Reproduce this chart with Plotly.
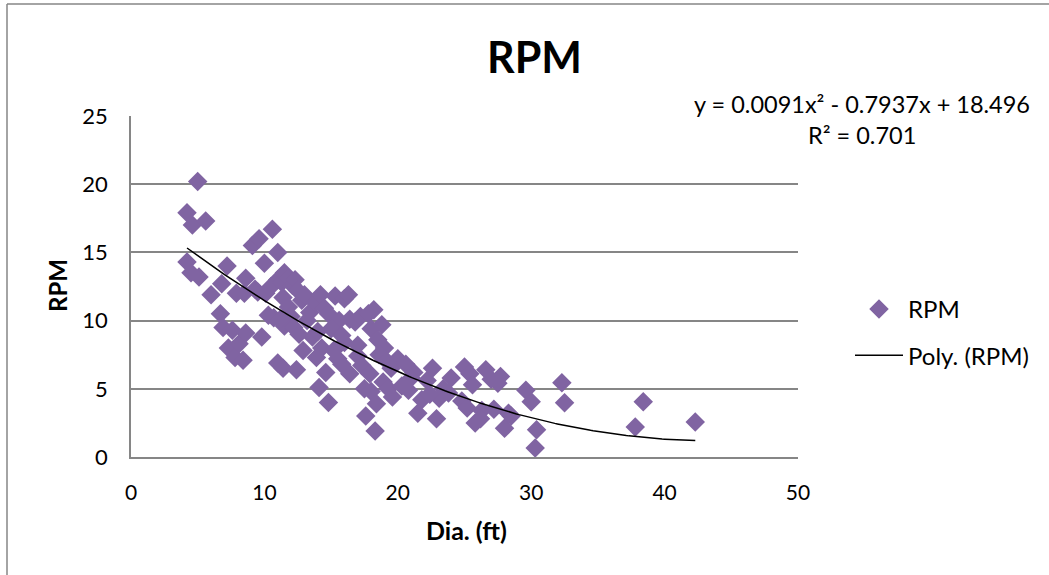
import plotly.graph_objects as go
import numpy as np

dia_ft = [5.0, 4.2, 4.6, 5.6, 4.2, 4.5, 5.1, 6.0, 6.8, 7.2, 6.7, 6.9, 7.3, 7.6, 7.8, 8.4, 8.1, 8.6,
          8.5, 8.6, 7.9, 9.5, 9.8, 9.1, 9.6, 10.0, 10.6, 11.0, 10.5, 10.7, 11.0, 11.3, 11.5, 11.8,
          12.1, 12.3, 11.4, 11.8, 12.0, 11.5, 12.2, 12.6, 12.8, 13.0, 13.4, 13.8, 14.2, 14.5, 14.8,
          15.3, 15.6, 16.0, 16.3, 16.4, 16.8, 11.0, 11.4, 12.4, 13.9, 14.1, 14.6, 14.8, 14.3, 15.2,
          15.5, 15.8, 16.4, 17.0, 17.3, 17.2, 17.8, 18.2, 18.0, 18.8, 18.5, 19.0, 18.6, 17.5, 17.6,
          18.0, 18.4, 18.3, 18.9, 19.3, 19.5, 20.0, 20.6, 20.3, 21.2, 21.5, 21.8, 22.2, 22.6, 22.9,
          23.1, 23.4, 24.0, 25.0, 25.4, 24.8, 25.6, 25.8, 26.3, 26.6, 27.0, 27.2, 27.7, 27.5, 28.0,
          28.5, 29.6, 30.0, 30.4, 30.3, 32.3, 32.5, 37.8, 38.4, 42.3, 26.2, 22.4, 20.8, 19.6, 17.9,
          16.0, 15.0, 13.6, 12.9, 10.3, 11.2, 9.3, 10.1, 12.5, 13.2, 14.0, 15.8, 17.0, 19.2, 21.0,
          23.8, 25.2, 28.3]
rpm = [20.2, 17.9, 17.0, 17.3, 14.3, 13.5, 13.2, 11.9, 12.7, 14.0, 10.5, 9.5, 8.0, 9.3, 7.3, 7.1, 8.3, 9.1,
       12.0, 13.1, 12.0, 12.1, 8.8, 15.5, 16.0, 14.2, 16.7, 15.0, 12.5, 10.2, 13.0, 12.8, 13.5, 13.1,
       12.6, 13.0, 11.7, 11.0, 10.3, 9.6, 9.5, 9.0, 11.5, 11.9, 10.6, 11.3, 11.9, 10.9, 10.5,
       11.8, 10.0, 11.6, 11.9, 10.1, 9.9, 6.9, 6.5, 6.4, 7.3, 5.1, 6.2, 4.0, 8.0, 7.8,
       7.2, 6.8, 6.1, 7.4, 6.7, 10.3, 10.5, 10.8, 9.4, 9.7, 8.6, 8.0, 7.5, 5.0, 3.0,
       4.8, 3.9, 1.9, 5.5, 5.0, 6.5, 7.2, 6.8, 5.2, 6.2, 3.2, 4.2, 5.6, 6.5, 2.8,
       4.3, 5.0, 5.8, 6.6, 6.1, 4.1, 5.3, 2.5, 3.4, 6.4, 5.7, 3.5, 5.9, 5.4, 2.1,
       3.0, 4.9, 4.05, 2.0, 0.66, 5.45, 3.98, 2.2, 4.05, 2.57, 2.8, 4.6, 4.9, 4.4, 6.1,
       8.4, 9.4, 8.8, 7.8, 10.4, 10.1, 12.3, 12.0, 12.2, 10.0, 9.2, 8.9, 8.2, 7.0, 5.8,
       4.7, 3.6, 3.2]

poly_coef = [0.0091, -0.7937, 18.496]
eq_text = "y = 0.0091x² - 0.7937x + 18.496"
r2_text = "R² = 0.701"

x_ticks = [0, 10, 20, 30, 40, 50]
y_ticks = [0, 5, 10, 15, 20, 25]

xs = np.linspace(min(dia_ft), max(dia_ft), 200)
ys = np.polyval(poly_coef, xs)

FONT = "Lato, Open Sans, sans-serif"
L, R, T, B = 131, 798, 116, 457
W, H = R - L, B - T


def px(x):
    return (x - L) / W


def py(y):
    return (B - y) / H


fig = go.Figure()
fig.add_trace(go.Scatter(x=dia_ft, y=rpm, mode="markers", name="RPM", legendgroup="a",
                         marker=dict(symbol="diamond", size=15, color="#8064A2", line=dict(width=0))))
fig.add_trace(go.Scatter(x=xs, y=ys, mode="lines", name="Poly. (RPM)", legendgroup="b",
                         line=dict(color="black", width=1.5)))

fig.update_layout(
    width=1049, height=575,
    margin=dict(l=L, r=1049 - R, t=T, b=575 - B),
    paper_bgcolor="white", plot_bgcolor="white",
    font=dict(family=FONT, size=21, color="black"),
    showlegend=True,
    legend=dict(x=px(850), y=py(287), xanchor="left", yanchor="top", bgcolor="rgba(0,0,0,0)",
                font=dict(size=24), traceorder="grouped", tracegroupgap=12, itemwidth=48),
    xaxis=dict(range=[0, 50], tickvals=x_ticks, showgrid=False, showline=True, linecolor="#868686",
               linewidth=1.5, zeroline=False, ticks="", ticklabelstandoff=16),
    yaxis=dict(range=[0, 25], tickvals=y_ticks, showgrid=True, gridcolor="#868686", gridwidth=1.5,
               showline=True, linecolor="#868686", linewidth=1.5, zeroline=False,
               ticks="", ticklabelstandoff=17, tickfont=dict(size=22)),
    annotations=[
        dict(text="<b>RPM</b>", xref="paper", yref="paper", x=px(534), y=py(57),
             showarrow=False, xanchor="center", yanchor="middle", font=dict(size=43)),
        dict(text="<b>Dia. (ft)</b>", xref="paper", yref="paper", x=px(466), y=py(530),
             showarrow=False, xanchor="center", yanchor="middle", font=dict(size=25)),
        dict(text="<b>RPM</b>", xref="paper", yref="paper", x=px(57), y=py(286), textangle=-90,
             showarrow=False, xanchor="center", yanchor="middle", font=dict(size=24)),
        dict(text=eq_text, xref="paper", yref="paper", x=px(862), y=py(104),
             showarrow=False, xanchor="center", yanchor="middle", font=dict(size=23.5)),
        dict(text=r2_text, xref="paper", yref="paper", x=px(862), y=py(135),
             showarrow=False, xanchor="center", yanchor="middle", font=dict(size=23.5)),
    ],
    shapes=[
        dict(type="line", xref="paper", yref="paper", x0=px(7), x1=px(1060),
             y0=py(4), y1=py(4), line=dict(color="#868686", width=1.5)),
        dict(type="line", xref="paper", yref="paper", x0=px(7), x1=px(7),
             y0=py(4), y1=py(580), line=dict(color="#868686", width=1.5)),
    ],
)
fig.write_html("out.html", config={"displayModeBar": False},
               post_script="document.body.style.margin='0px';")
